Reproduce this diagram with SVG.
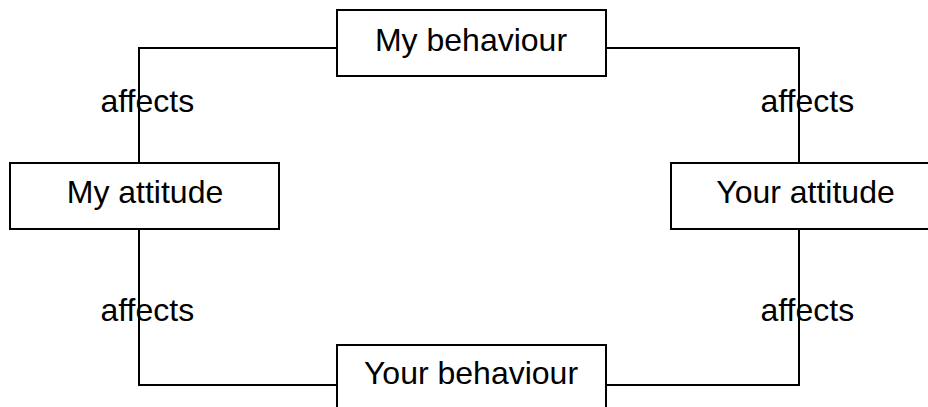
<svg xmlns="http://www.w3.org/2000/svg" width="928" height="407" viewBox="0 0 928 407">
<style>
.box{fill:#fff;stroke:#000;stroke-width:2}
.t{font-family:"Liberation Sans",Arial,sans-serif;font-size:32px;fill:#000}
.c{text-anchor:middle}
.con{fill:none;stroke:#000;stroke-width:2}
</style>
<rect width="928" height="407" fill="#fff"/>
<g id="connectors">
<polyline class="con" points="337,48 139,48 139,163"/>
<polyline class="con" points="606,48 799,48 799,163"/>
<polyline class="con" points="139,229 139,385 337,385"/>
<polyline class="con" points="606,385 799,385 799,229"/>
</g>
<g id="labels">
<text class="t" x="100.5" y="112">affects</text>
<text class="t" x="760.5" y="112">affects</text>
<text class="t" x="100.5" y="321">affects</text>
<text class="t" x="760.5" y="321">affects</text>
</g>
<g id="my-behaviour">
<rect class="box" x="337" y="10" width="269" height="66"/>
<text class="t c" x="471" y="51">My behaviour</text>
</g>
<g id="my-attitude">
<rect class="box" x="10" y="163" width="269" height="66"/>
<text class="t c" x="145" y="203">My attitude</text>
</g>
<g id="your-attitude">
<rect class="box" x="671" y="163" width="269" height="66"/>
<text class="t c" x="805.5" y="203">Your attitude</text>
</g>
<g id="your-behaviour">
<rect class="box" x="337" y="345" width="269" height="66"/>
<text class="t c" x="471" y="384">Your behaviour</text>
</g>
</svg>
